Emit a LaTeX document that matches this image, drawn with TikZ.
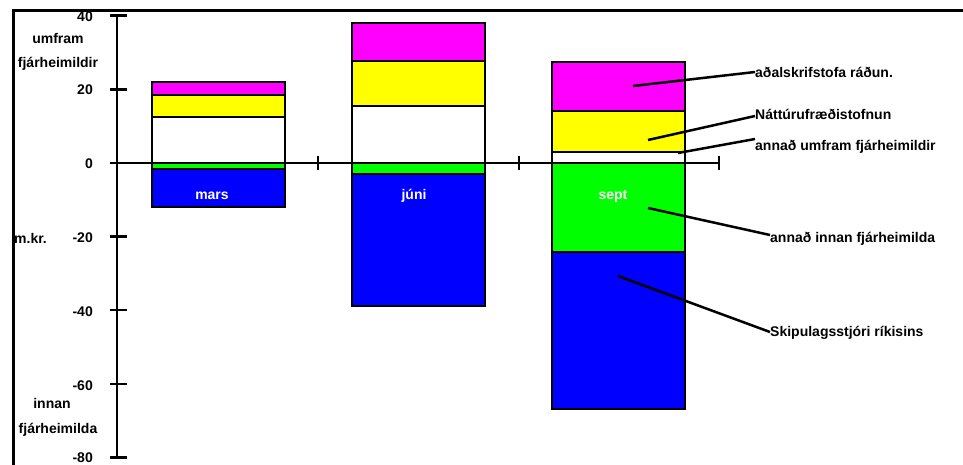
\documentclass[tikz,border=0pt]{standalone}
\usepackage{fontspec}
\setmainfont{Liberation Sans}
\definecolor{cmag}{RGB}{255,0,255}
\definecolor{cyel}{RGB}{255,255,0}
\definecolor{cgrn}{RGB}{0,255,0}
\definecolor{cblu}{RGB}{0,0,255}
\begin{document}
\begin{tikzpicture}[x=1pt,y=-1pt,
  lbl/.style={font=\bfseries\fontsize{14}{16}\selectfont, inner sep=0pt},
  seg/.style={draw=black, line width=2.5pt},
  ax/.style={line width=2.5pt},
  lead/.style={line width=2.5pt}]
\useasboundingbox (0,0) rectangle (963,465);
\draw[line width=3pt] (13,465) -- (13,11) -- (963,11);
% mars
\draw[seg, fill=cmag] (152,82) rectangle (285,95);
\draw[seg, fill=cyel] (152,95) rectangle (285,117);
\draw[seg, fill=white] (152,117) rectangle (285,163);
\draw[seg, fill=cgrn] (152,163) rectangle (285,169);
\draw[seg, fill=cblu] (152,169) rectangle (285,207);
% juni
\draw[seg, fill=cmag] (352,23) rectangle (485,61);
\draw[seg, fill=cyel] (352,61) rectangle (485,106);
\draw[seg, fill=white] (352,106) rectangle (485,163);
\draw[seg, fill=cgrn] (352,163) rectangle (485,174);
\draw[seg, fill=cblu] (352,174) rectangle (485,306);
% sept
\draw[seg, fill=cmag] (552,62) rectangle (685,111);
\draw[seg, fill=cyel] (552,111) rectangle (685,152);
\draw[seg, fill=white] (552,152) rectangle (685,163);
\draw[seg, fill=cgrn] (552,163) rectangle (685,252);
\draw[seg, fill=cblu] (552,252) rectangle (685,409);
% bar labels
\node[lbl, text=white] (lmars) at (212,196) {mars};
\node[lbl, text=white] (ljuni) at (414,196) {júni};
\node[lbl, text=white] (lsept) at (613,196) {sept};
% axes
\draw[ax] (117,15.7) -- (117,457.7);
\foreach \yy in {15.7,89.3,163,236.7,310,384,457.7} \draw[ax] (110,\yy) -- (127,\yy);
\draw[ax] (117,163) -- (719,163);
\foreach \xx in {318,519,719} \draw[ax] (\xx,156) -- (\xx,170);
% axis labels
\node[lbl, anchor=east] (t40) at (93,17) {40};
\node[lbl, anchor=east] (t20) at (93,90) {20};
\node[lbl, anchor=east] (t0) at (93,164) {0};
\node[lbl, anchor=east] (tm20) at (93,238) {-20};
\node[lbl, anchor=east] (tm40) at (93,312) {-40};
\node[lbl, anchor=east] (tm60) at (93,386) {-60};
\node[lbl, anchor=east] (tm80) at (93,458) {-80};
\node[lbl] (umf) at (58,38) {umfram};
\node[lbl] (fjh) at (58,64) {fjárheimildir};
\node[lbl, anchor=west] (mkr) at (14,238) {m.kr.};
\node[lbl] (inn) at (52,403) {innan};
\node[lbl] (fjha) at (58,430) {fjárheimilda};
% legend labels
\node[lbl, anchor=west] (L1) at (755,72) {aðalskrifstofa ráðun.};
\node[lbl, anchor=west] (L2) at (755,114) {Náttúrufræðistofnun};
\node[lbl, anchor=west] (L3) at (755,147) {annað umfram fjárheimildir};
\node[lbl, anchor=west] (L4) at (770,239) {annað innan fjárheimilda};
\node[lbl, anchor=west] (L5) at (770,333) {Skipulagsstjóri ríkisins};
% leader ends
\coordinate (p1) at (633,86);
\coordinate (p2) at (648,140);
\coordinate (p3) at (678,153);
\coordinate (p4) at (648,208);
\coordinate (p5) at (618,276);
\coordinate (q3) at (755,139);
\coordinate (q4) at (770,235);
\coordinate (q5) at (770,332);
\draw[lead] (p1) -- (L1.west);
\draw[lead] (p2) -- ([yshift=-2pt]L2.west);
\draw[lead] (p3) -- (q3);
\draw[lead] (p4) -- (q4);
\draw[lead] (p5) -- (q5);
\end{tikzpicture}
\end{document}
